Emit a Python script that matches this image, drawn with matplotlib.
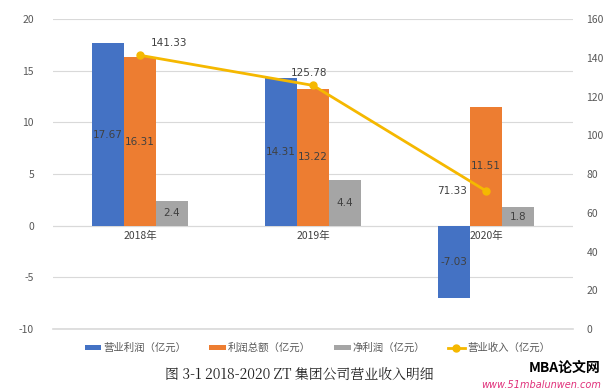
import matplotlib.pyplot as plt
import numpy as np

plt.rcParams['font.family'] = ['Noto Sans CJK SC', 'DejaVu Sans']
plt.rcParams['axes.unicode_minus'] = False

# data
years = ["2018年", "2019年", "2020年"]
op_profit = [17.67, 14.31, -7.03]
total_profit = [16.31, 13.22, 11.51]
net_profit = [2.4, 4.4, 1.8]
revenue = [141.33, 125.78, 71.33]
series_names = ["营业利润（亿元）", "利润总额（亿元）", "净利润（亿元）", "营业收入（亿元）"]

blue = "#4472C4"
orange = "#ED7D31"
gray = "#A5A5A5"
yellow = "#F5B800"
tick_col = "#595959"

fig = plt.figure(figsize=(6.1, 3.9), dpi=100)
ax = fig.add_axes([0.0877, 0.156, 0.851, 0.795])

x = np.arange(len(years))
w = 0.185
b1 = ax.bar(x - w, op_profit, w, color=blue, label=series_names[0], zorder=2)
b2 = ax.bar(x, total_profit, w, color=orange, label=series_names[1], zorder=2)
b3 = ax.bar(x + w, net_profit, w, color=gray, label=series_names[2], zorder=2)

for bars, vals in [(b1, op_profit), (b2, total_profit), (b3, net_profit)]:
    for r, v in zip(bars, vals):
        ax.text(r.get_x() + r.get_width() / 2, v / 2, f"{v:g}", ha="center", va="center",
                fontsize=7.5, color="#404040", family="DejaVu Sans", zorder=5)

ax.set_xlim(-0.5, 2.5)
ax.set_ylim(-10, 20)
ax.set_yticks(range(-10, 21, 5))
ax.grid(axis="y", color="#D9D9D9", linewidth=0.8, zorder=0)
ax.axhline(0, color="#D9D9D9", linewidth=0.8, zorder=1)
ax.axhline(-10, color="#D9D9D9", linewidth=1.2, zorder=1, clip_on=False)
for s in ax.spines.values():
    s.set_visible(False)
ax.tick_params(axis="y", length=0, labelsize=7.5, labelcolor=tick_col, pad=14)
ax.set_xticks([])
for xi, yr in zip(x, years):
    ax.text(xi, -0.5, yr, ha="center", va="top", fontsize=7.5, color="#404040", zorder=5)

ax2 = ax.twinx()
ax2.set_ylim(0, 160)
ax2.set_yticks(range(0, 161, 20))
for s in ax2.spines.values():
    s.set_visible(False)
ax2.tick_params(axis="y", length=0, labelsize=7.5, labelcolor=tick_col, pad=10)
ln, = ax2.plot(x, revenue, color=yellow, linewidth=2, marker="o", markersize=5,
               label=series_names[3], zorder=4)

offsets = [(8, 9, "left"), (-3, 9, "center"), (-14, 0, "right")]
for xi, v, (dx, dy, ha) in zip(x, revenue, offsets):
    ax2.annotate(f"{v:g}", (xi, v), xytext=(dx, dy), textcoords="offset points",
                 ha=ha, va="center", fontsize=7.5, color="#404040", family="DejaVu Sans")

handles = [b1, b2, b3, ln]
fig.legend(handles, series_names, loc="center", bbox_to_anchor=(0.52, 0.108), ncol=4,
           frameon=False, fontsize=7.5, labelcolor=tick_col, handlelength=1.6,
           handleheight=0.4, columnspacing=2.2, handletextpad=0.2)

fig.text(0.49, 0.038, "图 3-1 2018-2020 ZT 集团公司营业收入明细", ha="center", va="center",
         fontsize=10, color="#222222", family=["Noto Serif CJK SC", "Noto Sans CJK SC", "DejaVu Sans"])
fig.text(0.985, 0.058, "MBA论文网", ha="right", va="center", fontsize=10,
         fontweight="bold", style="italic", color="black")
fig.text(0.985, 0.013, "www.51mbalunwen.com", ha="right", va="center", fontsize=7,
         style="italic", color="#E0307A", family="DejaVu Sans")

fig.savefig("out.png", dpi=100)
